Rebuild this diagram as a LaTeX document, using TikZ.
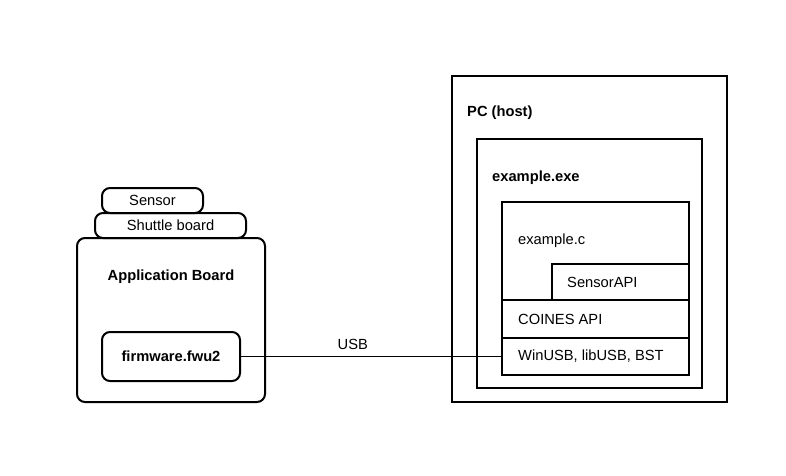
\documentclass[tikz,border=0pt]{standalone}
\usepackage{fontspec}
\setmainfont{Liberation Sans}
\begin{document}
\begin{tikzpicture}[x=1pt, y=-1pt, every node/.style={font=\fontsize{14.7}{17}\selectfont},
	box/.style={draw, line width=2pt, inner sep=0pt},
	rbox/.style={box, rounded corners=8pt},
	lbl/.style={anchor=west, inner sep=0pt}]
				\useasboundingbox (0,0) rectangle (786,475);
				% Manual node positions
				\node[box, minimum width=275pt, minimum height=326pt] (PC) at (589.5,239) {};
				\node[box, minimum width=225pt, minimum height=249pt] (EXE) at (589.5,263.5) {};
				\node[box, minimum width=187pt, minimum height=173pt] (EXC) at (595.5,288.5) {};
				\node[box, minimum width=137pt, minimum height=36pt] (SAPI) at (620.5,282) {};
				\node[box, minimum width=187pt, minimum height=38pt] (CAPI) at (595.5,319) {};
				\node[box, minimum width=187pt, minimum height=37pt] (DRV) at (595.5,356.5) {};
				\node[rbox, minimum width=101pt, minimum height=25pt] (SEN) at (152.5,200.5) {Sensor};
				\node[rbox, minimum width=151pt, minimum height=25pt] (SHB) at (170.5,225.5) {Shuttle board};
				\node[rbox, minimum width=188pt, minimum height=164pt] (APB) at (171,320) {};
				\node[rbox, minimum width=138pt, minimum height=49pt, font=\fontsize{14.7}{17}\selectfont\bfseries] (FW) at (171,356.5) {firmware.fwu2};

				% Labels
				\node[lbl, font=\fontsize{14.7}{17}\selectfont\bfseries] (PCl) at (467,113) {PC (host)};
				\node[lbl, font=\fontsize{14.7}{17}\selectfont\bfseries] (EXEl) at (492,178) {example.exe};
				\node[lbl] (EXCl) at (518,241) {example.c};
				\node[lbl] (SAPIl) at (567,282) {SensorAPI};
				\node[lbl] (CAPIl) at (518,319) {COINES API};
				\node[lbl] (DRVl) at (518,356) {WinUSB, libUSB, BST};
				\node[font=\fontsize{14.7}{17}\selectfont\bfseries] (APBl) at (171,277) {Application Board};

				% Connections
				\draw[-, line width=1pt] (FW.east) -- (DRV.west) node[pos=0.43, above=3pt] {USB};

			\end{tikzpicture}
\end{document}
